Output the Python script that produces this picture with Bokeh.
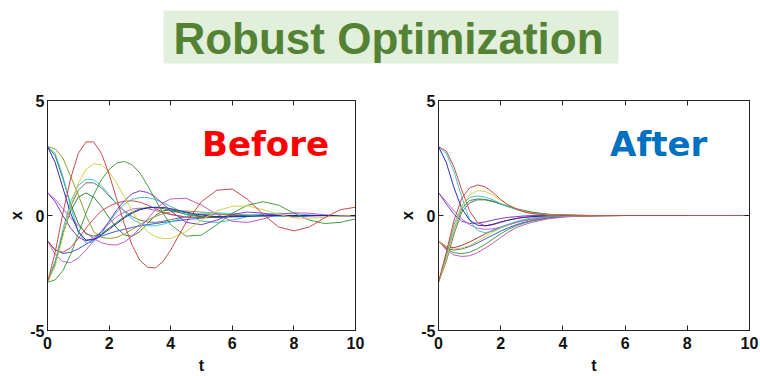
from bokeh.plotting import figure
from bokeh.layouts import column, row
from bokeh.models import Range1d, FixedTicker, LinearAxis, Label
from bokeh.embed import file_html
from bokeh.resources import INLINE
from bokeh.core.properties import value

TITLE = "Robust Optimization"
X_TICKS = [0, 2, 4, 6, 8, 10]
Y_TICKS = [-5, 0, 5]
Y_TICK_LABELS = {-5: "-5", 0: "0", 5: "5"}

# ---------- "Before" panel: sample times and trajectories ----------
T_BEFORE = [0, 0.25, 0.5, 0.75, 1, 1.25, 1.5, 1.75, 2, 2.25, 2.5, 2.75, 3, 3.25, 3.5, 3.75, 4,
            4.5, 5, 5.5, 6, 6.5, 7, 7.5, 8, 8.5, 9, 9.5, 10]
B_RED = [-2.9, -1.6, 0.1, 1.6, 2.7, 3.2, 3.2, 2.7, 1.8, 0.7, -0.4, -1.3, -1.95, -2.25, -2.28, -2.0, -1.5,
         -0.3, 0.6, 1.1, 1.15, 0.7, 0.05, -0.5, -0.67, -0.5, -0.1, 0.25, 0.36]
B_YELLOW = [-2.9, -2.2, -0.9, 0.4, 1.4, 2.0, 2.25, 2.2, 1.9, 1.4, 0.8, 0.2, -0.35, -0.7, -0.92, -1.0, -1.0,
            -0.7, -0.2, 0.2, 0.4, 0.42, 0.25, 0.05, -0.1, -0.12, -0.08, -0.02, 0.0]
B_GREEN = [-2.9, -2.8, -2.4, -1.7, -0.8, 0.1, 0.9, 1.55, 2.0, 2.28, 2.35, 2.2, 1.85, 1.3, 0.7, 0.1, -0.4,
           -0.9, -0.85, -0.4, 0.1, 0.45, 0.6, 0.45, 0.1, -0.2, -0.35, -0.3, -0.15]
B_CYAN_A = [-2.9, -2.0, -0.6, 0.6, 1.3, 1.58, 1.55, 1.3, 0.9, 0.5, 0.15, -0.15, -0.35, -0.45, -0.45, -0.38, -0.28,
            -0.05, 0.1, 0.12, 0.08, 0.02, -0.03, -0.04, -0.02, 0.0, 0.01, 0.0, 0.0]
B_GREY = [-2.9, -2.1, -0.8, 0.4, 1.1, 1.42, 1.42, 1.2, 0.85, 0.5, 0.2, -0.05, -0.2, -0.28, -0.3, -0.25, -0.18,
          -0.05, 0.04, 0.06, 0.04, 0.01, -0.01, -0.01, 0.0, 0.0, 0.0, 0.0, 0.0]
B_DKGREEN = [-2.9, -2.0, -0.8, 0.2, 0.8, 0.98, 0.8, 0.4, -0.1, -0.55, -0.85, -0.9, -0.7, -0.35, 0.0, 0.2, 0.25,
             0.12, -0.05, -0.08, -0.03, 0.01, 0.02, 0.01, 0.0, 0.0, 0.0, 0.0, 0.0]
B_BLUE = [3.0, 2.3, 1.2, 0.1, -0.7, -1.07, -1.05, -0.85, -0.6, -0.35, -0.1, 0.1, 0.25, 0.33, 0.36, 0.35, 0.3,
          0.15, 0.02, -0.05, -0.06, -0.04, -0.01, 0.0, 0.0, 0.0, 0.0, 0.0, 0.0]
B_CYAN_B = [3.0, 2.7, 1.7, 0.4, -0.7, -1.2, -1.15, -0.8, -0.3, 0.15, 0.5, 0.7, 0.78, 0.78, 0.7, 0.55, 0.4,
            0.05, -0.25, -0.3, -0.2, -0.05, 0.05, 0.1, 0.08, 0.03, -0.02, -0.03, -0.02]
B_OLIVE = [3.0, 2.9, 2.5, 1.7, 0.9, 0.0, -0.7, -0.95, -1.0, -0.95, -0.8, -0.6, -0.4, -0.2, -0.05, 0.08, 0.15,
           0.2, 0.15, 0.08, 0.02, -0.02, -0.03, -0.02, 0.0, 0.0, 0.0, 0.0, 0.0]
B_MAGENTA = [1.0, 0.7, 0.3, -0.1, -0.45, -0.75, -1.0, -1.18, -1.27, -1.28, -1.15, -0.9, -0.55, -0.15, 0.25, 0.55, 0.72,
             0.75, 0.45, 0.05, -0.25, -0.3, -0.15, 0.05, 0.12, 0.1, 0.03, -0.03, -0.03]
B_PURPLE = [1.0, 0.6, 0.0, -0.55, -0.95, -1.1, -1.0, -0.7, -0.25, 0.25, 0.65, 0.95, 1.07, 1.0, 0.8, 0.5, 0.2,
            -0.3, -0.4, -0.2, 0.05, 0.15, 0.1, 0.0, -0.05, -0.03, 0.0, 0.0, 0.0]
B_RED2 = [-1.1, -1.5, -1.6, -1.4, -1.0, -0.55, -0.15, 0.2, 0.4, 0.55, 0.62, 0.64, 0.58, 0.45, 0.3, 0.15, 0.05,
          -0.08, -0.1, -0.06, -0.02, 0.0, 0.0, 0.0, 0.0, 0.0, 0.0, 0.0, 0.0]
B_VIOLET = [-1.1, -1.7, -2.0, -2.05, -1.85, -1.5, -1.1, -0.7, -0.35, -0.05, 0.15, 0.28, 0.32, 0.3, 0.22, 0.12, 0.04,
            -0.06, -0.08, -0.05, -0.01, 0.0, 0.0, 0.0, 0.0, 0.0, 0.0, 0.0, 0.0]
B_BLUE2 = [-1.1, -1.5, -1.65, -1.6, -1.45, -1.25, -1.05, -0.9, -0.78, -0.68, -0.6, -0.52, -0.45, -0.4, -0.35, -0.3, -0.26,
           -0.18, -0.11, -0.06, -0.03, -0.01, 0.0, 0.0, 0.0, 0.0, 0.0, 0.0, 0.0]
B_DKGREEN2 = [3.0, 2.6, 1.6, 0.5, -0.35, -0.8, -0.9, -0.8, -0.55, -0.3, -0.05, 0.15, 0.28, 0.35, 0.35, 0.3, 0.22,
              0.05, -0.06, -0.08, -0.04, 0.0, 0.02, 0.01, 0.0, 0.0, 0.0, 0.0, 0.0]

# ---------- "After" panel: sample times and trajectories (each ends where it stops) ----------
T_AFTER = [0, 0.25, 0.5, 0.75, 1, 1.25, 1.5, 1.75, 2, 2.25, 2.5, 2.75, 3, 3.5, 4, 4.5, 5, 6, 7, 8, 10]
A_RED = [-2.9, -1.6, -0.2, 0.75, 1.2, 1.33, 1.25, 1.0, 0.7, 0.45, 0.28, 0.16, 0.08, 0.02, 0.0, -0.01, -0.01,
         0.0, 0.0, 0.0, 0.0]
A_YELLOW = [-2.9, -1.9, -0.6, 0.4, 0.9, 1.08, 1.05, 0.88, 0.65, 0.45, 0.3, 0.18, 0.1, 0.03, 0.0, -0.01, 0.0, 0.0]
A_CYAN = [-2.9, -1.7, -0.4, 0.45, 0.78, 0.85, 0.8, 0.68, 0.52, 0.38, 0.26, 0.17, 0.1, 0.03, 0.01, 0.0, 0.0, 0.0]
A_GREEN = [-2.9, -1.8, -0.6, 0.3, 0.65, 0.72, 0.7, 0.62, 0.5, 0.38, 0.28, 0.2, 0.13, 0.05, 0.02, 0.01, 0.0,
           0.0, 0.0, 0.0]
A_GREY = [-2.9, -2.0, -0.8, 0.15, 0.55, 0.68, 0.68, 0.6, 0.5, 0.4, 0.3, 0.22, 0.15, 0.06, 0.02, 0.01, 0.0]
A_BLUE = [3.0, 2.3, 1.2, 0.3, -0.2, -0.42, -0.45, -0.38, -0.28, -0.2, -0.13, -0.08, -0.05, -0.01, 0.0, 0.0]
A_CYAN2 = [3.0, 2.7, 1.9, 0.8, -0.2, -0.65, -0.75, -0.68, -0.52, -0.38, -0.26, -0.17, -0.11, -0.04, -0.01, 0.0,
           0.0, 0.0]
A_RED2 = [3.0, 2.8, 2.1, 1.1, 0.2, -0.3, -0.45, -0.4, -0.3, -0.2, -0.13, -0.08, -0.05, -0.02, 0.0, 0.0, 0.0,
          0.0, 0.0]
A_PURPLE = [1.0, 0.6, 0.2, -0.15, -0.4, -0.55, -0.6, -0.58, -0.5, -0.4, -0.3, -0.22, -0.15, -0.06, -0.02, -0.01, 0.0]
A_VIOLET = [1.0, 0.5, 0.05, -0.25, -0.35, -0.33, -0.28, -0.2, -0.13, -0.08, -0.05, -0.02, 0.0, 0.01, 0.01, 0.0,
            0.0, 0.0, 0.0, 0.0]
A_YELLOW2 = [-1.1, -1.38, -1.46, -1.42, -1.3, -1.12, -0.92, -0.72, -0.55, -0.42, -0.3, -0.2, -0.14, -0.06, -0.02,
             -0.01, 0.0]
A_GREEN2 = [-1.1, -1.45, -1.62, -1.66, -1.6, -1.45, -1.25, -1.02, -0.8, -0.6, -0.45, -0.33, -0.24, -0.12, -0.05,
            -0.02, -0.01, 0.0, 0.0, 0.0]
A_MAGENTA = [-1.1, -1.5, -1.72, -1.78, -1.75, -1.62, -1.42, -1.2, -0.95, -0.72, -0.53, -0.4, -0.3, -0.15, -0.07,
             -0.03, -0.01, 0.0]
A_DKRED = [-1.1, -1.35, -1.4, -1.3, -1.15, -0.98, -0.8, -0.65, -0.52, -0.4, -0.3, -0.22, -0.16, -0.08, -0.04,
           -0.02, -0.01, 0.0, 0.0, 0.0]
A_BLUE2 = [-1.1, -1.42, -1.5, -1.45, -1.35, -1.2, -1.02, -0.85, -0.68, -0.53, -0.4, -0.3, -0.22, -0.11, -0.05,
           -0.02, -0.01, 0.0, 0.0]

BEFORE_SERIES = [
    (B_GREY, "#6a6a6a"), (B_DKGREEN, "#2e7d32"), (B_OLIVE, "#8f9a2a"), (B_BLUE2, "#3050d0"),
    (B_VIOLET, "#b060d0"), (B_RED2, "#d04040"), (B_DKGREEN2, "#237a23"), (B_CYAN_B, "#40b8d0"),
    (B_CYAN_A, "#3cc4cc"), (B_PURPLE, "#7a30c0"), (B_MAGENTA, "#c050c0"), (B_BLUE, "#2020c0"),
    (B_GREEN, "#3a9a3a"), (B_YELLOW, "#d0d040"), (B_RED, "#c84040"),
]
AFTER_SERIES = [
    (A_GREY, "#6a6a6a"), (A_VIOLET, "#7a30c0"), (A_BLUE2, "#3050d0"), (A_DKRED, "#b03030"),
    (A_GREEN2, "#3a9a3a"), (A_MAGENTA, "#c050c0"), (A_YELLOW2, "#d0d040"), (A_PURPLE, "#b060d0"),
    (A_RED2, "#c84040"), (A_CYAN2, "#3cc4cc"), (A_BLUE, "#2020c0"), (A_GREEN, "#2e8b3a"),
    (A_CYAN, "#40b8d0"), (A_YELLOW, "#d0d040"), (A_RED, "#c84040"),
]

FONT = "Liberation Sans"
FRAME = "#222222"


def make_panel(width, left_border, right_border, times, series, label, label_color):
    p = figure(width=width, height=296, x_range=Range1d(0, 10), y_range=Range1d(-5, 5),
               output_backend="svg", toolbar_location=None,
               min_border_left=left_border, min_border_right=right_border,
               min_border_top=20, min_border_bottom=42,
               x_axis_label="t", y_axis_label="x")
    p.grid.visible = False
    p.outline_line_color = FRAME
    p.outline_line_width = 1
    p.background_fill_color = "white"
    p.border_fill_color = "white"
    p.xaxis.ticker = FixedTicker(ticks=X_TICKS)
    p.yaxis.ticker = FixedTicker(ticks=Y_TICKS)
    p.yaxis.major_label_overrides = Y_TICK_LABELS
    for ax in p.axis:
        ax.major_tick_in = 5
        ax.major_tick_out = 0
        ax.minor_tick_line_color = None
        ax.axis_line_color = FRAME
        ax.major_tick_line_color = FRAME
        ax.major_label_text_font = FONT
        ax.major_label_text_font_size = "16px"
        ax.major_label_text_font_style = "bold"
        ax.major_label_text_color = "#111111"
        ax.axis_label_text_font = FONT
        ax.axis_label_text_font_size = "16px"
        ax.axis_label_text_font_style = "bold"
        ax.axis_label_text_color = "#111111"
    p.xaxis.major_label_standoff = 6
    p.xaxis.axis_label_standoff = 5
    p.yaxis.major_label_standoff = 3
    p.yaxis.axis_label_standoff = 2

    top = LinearAxis(ticker=FixedTicker(ticks=X_TICKS),
                     major_label_overrides={t: "" for t in X_TICKS},
                     major_tick_in=5, major_tick_out=0, minor_tick_line_color=None,
                     axis_line_color=FRAME, major_tick_line_color=FRAME,
                     major_label_standoff=0, major_label_text_font_size="1px")
    p.add_layout(top, "above")
    rgt = LinearAxis(ticker=FixedTicker(ticks=Y_TICKS),
                     major_label_overrides={t: "" for t in Y_TICKS},
                     major_tick_in=5, major_tick_out=0, minor_tick_line_color=None,
                     axis_line_color=FRAME, major_tick_line_color=FRAME,
                     major_label_standoff=0, major_label_text_font_size="1px")
    p.add_layout(rgt, "right")

    for ys, color in series:
        p.line(times[:len(ys)], ys, line_color=color, line_width=1, line_alpha=0.95)

    p.add_layout(Label(x=7.08, y=3.12, text=label, text_font="DejaVu Sans",
                       text_font_style="bold", text_font_size="34px",
                       text_color=label_color, text_align="center",
                       text_baseline="alphabetic"))
    return p


head = figure(width=760, height=80, x_range=Range1d(0, 760), y_range=Range1d(80, 0),
              x_axis_type=None, y_axis_type=None, output_backend="svg",
              toolbar_location=None, min_border=0)
head.grid.visible = False
head.outline_line_color = None
head.quad(left=[163], right=[618], top=[10], bottom=[63],
          fill_color="#e2efda", line_color=None)
head.text(x=[388], y=[38], text=[TITLE], text_font=value(FONT), text_font_style="bold",
          text_font_size="44px", text_color="#548235", text_align="center",
          text_baseline="alphabetic")

left = make_panel(390, 47, 35, T_BEFORE, BEFORE_SERIES, "Before", "#ff0000")
right = make_panel(370, 48, 11, T_AFTER, AFTER_SERIES, "After", "#0070c0")

layout = column(head, row(left, right))
open("out.html", "w").write(file_html(layout, INLINE))
